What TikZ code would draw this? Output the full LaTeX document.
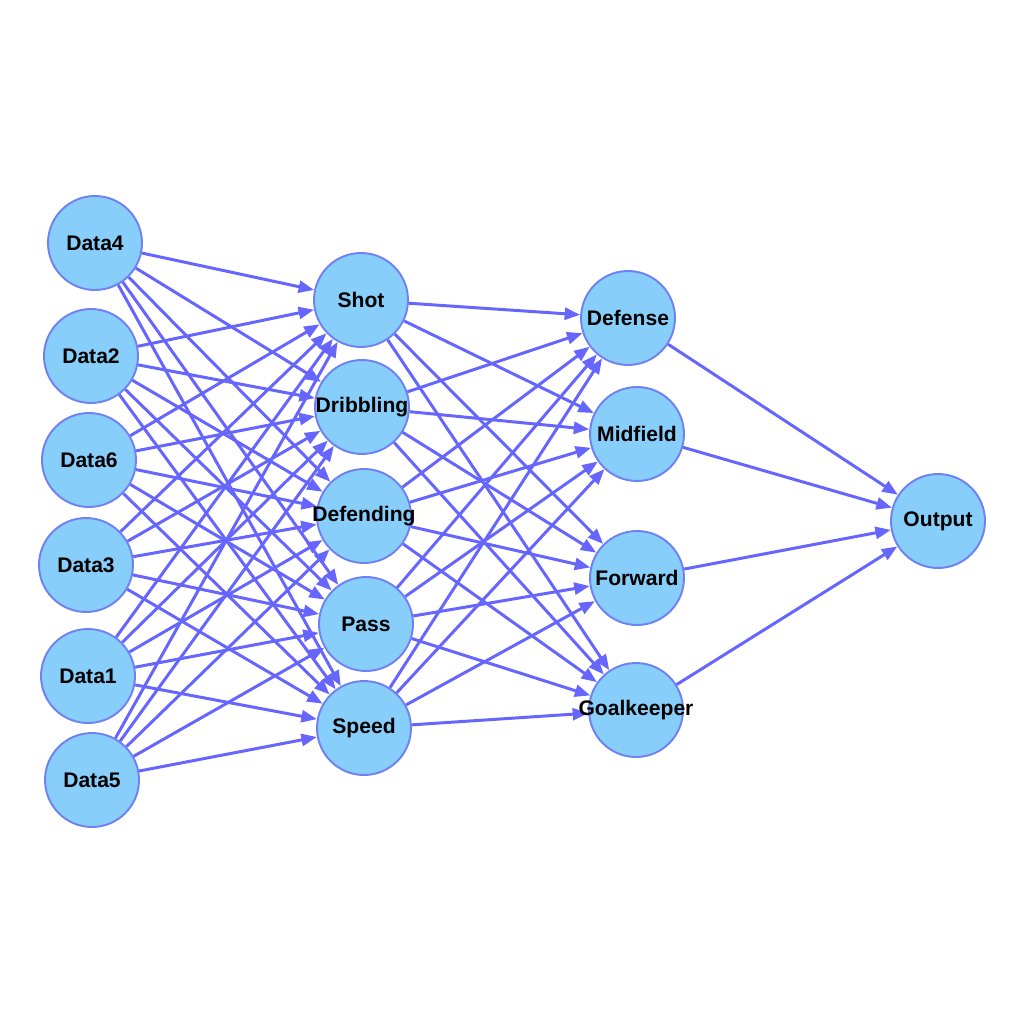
\documentclass[tikz,border=0pt]{standalone}
\usepackage{fontspec}
\setmainfont{Liberation Sans}
\usetikzlibrary{arrows.meta}
\definecolor{linkblue}{HTML}{6666FF}
\definecolor{cellfill}{HTML}{87CEFA}
\definecolor{cellline}{HTML}{7080F5}
\tikzset{
  neuron/.style={circle, draw=cellline, fill=cellfill, line width=1.1pt,
    minimum size=1.88cm, inner sep=0pt},
  tag/.style={font=\fontsize{12}{14}\selectfont\bfseries},
  link/.style={draw=linkblue, line width=1.7pt,
    -{Triangle[length=3.1mm, width=2.4mm]}}
}
\begin{document}
\begin{tikzpicture}[x=0.02cm, y=-0.02cm]
    \useasboundingbox (0,0) rectangle (1024,1024);

    % Input layer
    \node[neuron] (data4) at (95, 243) {};
    \node[neuron] (data2) at (91, 356) {};
    \node[neuron] (data6) at (89, 460) {};
    \node[neuron] (data3) at (86, 565) {};
    \node[neuron] (data1) at (88, 676) {};
    \node[neuron] (data5) at (92, 780) {};

    % Skill layer
    \node[neuron] (shot) at (361, 300) {};
    \node[neuron] (dribbling) at (362, 407) {};
    \node[neuron] (defending) at (364, 516) {};
    \node[neuron] (pass) at (366, 624) {};
    \node[neuron] (speed) at (364, 728) {};

    % Position layer
    \node[neuron] (defense) at (628, 318) {};
    \node[neuron] (midfield) at (637, 434) {};
    \node[neuron] (forward) at (637, 578) {};
    \node[neuron] (goalkeeper) at (636, 710) {};

    % Output
    \node[neuron] (output) at (938, 521) {};

    % Connections
    \foreach \a in {data4,data2,data6,data3,data1,data5}
      \foreach \b in {shot,dribbling,defending,pass,speed}
        \draw[link] (\a) -- (\b);
    \foreach \a in {shot,dribbling,defending,pass,speed}
      \foreach \b in {defense,midfield,forward,goalkeeper}
        \draw[link] (\a) -- (\b);
    \foreach \a in {defense,midfield,forward,goalkeeper}
      \draw[link] (\a) -- (output);

    % Labels on top
    \foreach \n/\t in {data4/Data4,data2/Data2,data6/Data6,data3/Data3,data1/Data1,data5/Data5,
      shot/Shot,dribbling/Dribbling,defending/Defending,pass/Pass,speed/Speed,
      defense/Defense,midfield/Midfield,forward/Forward,goalkeeper/Goalkeeper,output/Output}
      \node[tag] (\n-tag) at (\n) {\t};
\end{tikzpicture}
\end{document}
